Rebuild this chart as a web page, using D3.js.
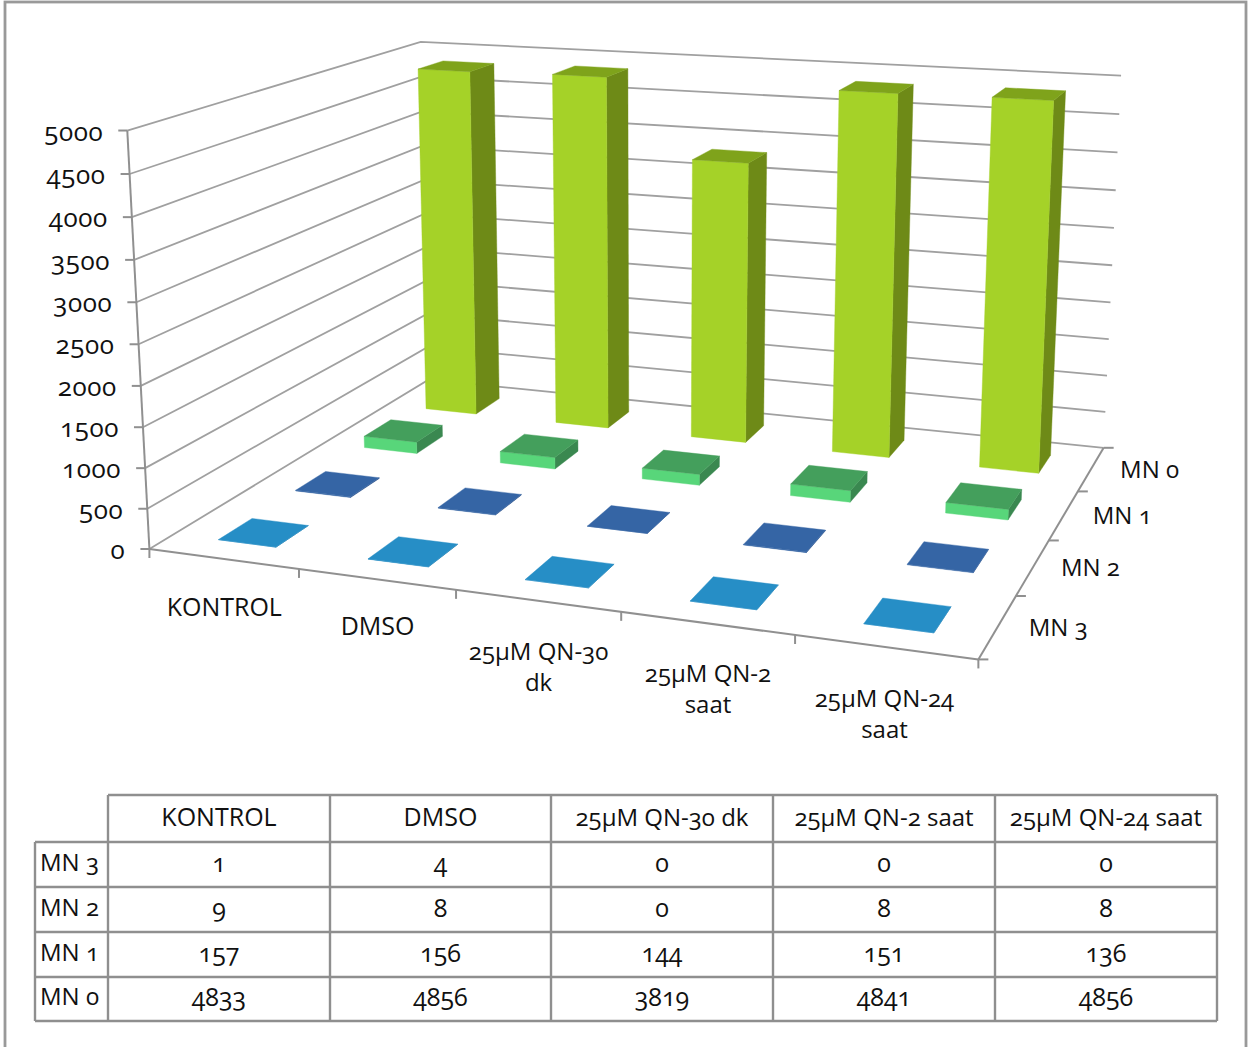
<!DOCTYPE html>
<html>
<head>
<meta charset="utf-8">
<script src="https://cdn.jsdelivr.net/npm/d3@7/dist/d3.min.js"></script>
<style>
html,body{margin:0;padding:0;background:#fff;}
svg{display:block;}
text{font-family:"Open Sans","Noto Sans",sans-serif;font-feature-settings:"onum" 1;fill:#111;}
</style>
</head>
<body>
<svg id="chart" width="1252" height="1047"></svg>
<script>
// Micronucleus counts per treatment
const categories = ["KONTROL", "DMSO", "25µM QN-30 dk", "25µM QN-2 saat", "25µM QN-24 saat"];
const axisLabelLines = [["KONTROL"], ["DMSO"], ["25µM QN-30", "dk"], ["25µM QN-2", "saat"], ["25µM QN-24", "saat"]];
const seriesNames = ["MN 3", "MN 2", "MN 1", "MN 0"];
const mn3 = [1, 4, 0, 0, 0];
const mn2 = [9, 8, 0, 8, 8];
const mn1 = [157, 156, 144, 151, 136];
const mn0 = [4833, 4856, 3819, 4841, 4856];
const seriesValues = [mn3, mn2, mn1, mn0];
const valueTicks = [0, 500, 1000, 1500, 2000, 2500, 3000, 3500, 4000, 4500, 5000];

// Face colours per series: front, side, top
const palette = [
  {front: "#268ec6", side: "#1f78a8", top: "#268ec6"},
  {front: "#3565a5", side: "#2b528a", top: "#3565a5"},
  {front: "#58d67a", side: "#3a8850", top: "#449f5c"},
  {front: "#a5d228", side: "#6e8a17", top: "#7fa31b"}
];

const gridColor = "#a0a0a0", axisColor = "#909090", tableColor = "#8f8f8f";
const wideSize = 25, mixedSize = 24;
// Labels containing the µ sign or the MN prefix run a little smaller
const sizeFor = t => /µ|MN|dk|saat/.test(t) ? mixedSize : wideSize;

// Scene corners used to calibrate the perspective camera: [x, y, z] in unit box -> screen
const calibration = [
  [[0,0,0],[150,549]], [[1,0,0],[978,660]], [[1,0,1],[1104,447]], [[0,0,1],[428,380]],
  [[0,1,0],[127,130]], [[0,1,1],[421,42]], [[1,1,1],[1121,76]]
];

// Direct linear transform with the last matrix term fixed at 1
function solveCamera(pairs) {
  const rows = [], rhs = [];
  pairs.forEach(([[x,y,z],[u,v]]) => {
    rows.push([x,y,z,1,0,0,0,0,-u*x,-u*y,-u*z]); rhs.push(u);
    rows.push([0,0,0,0,x,y,z,1,-v*x,-v*y,-v*z]); rhs.push(v);
  });
  const n = 11;
  const M = d3.range(n).map(i => d3.range(n + 1).map(j =>
    j < n ? d3.sum(rows, r => r[i] * r[j]) : d3.sum(rows, (r, k) => r[i] * rhs[k])));
  for (let c = 0; c < n; c++) {
    let p = c;
    for (let r = c + 1; r < n; r++) if (Math.abs(M[r][c]) > Math.abs(M[p][c])) p = r;
    [M[c], M[p]] = [M[p], M[c]];
    for (let r = 0; r < n; r++) {
      if (r === c) continue;
      const f = M[r][c] / M[c][c];
      for (let k = c; k <= n; k++) M[r][k] -= f * M[c][k];
    }
  }
  return d3.range(n).map(i => M[i][n] / M[i][i]);
}
const cam = solveCamera(calibration);
function project(x, y, z) {
  const w = cam[8]*x + cam[9]*y + cam[10]*z + 1;
  return [(cam[0]*x + cam[1]*y + cam[2]*z + cam[3]) / w,
          (cam[4]*x + cam[5]*y + cam[6]*z + cam[7]) / w];
}

// Data scales into the unit box
const xScale = d3.scaleBand().domain(categories).range([0, 1]).paddingInner(0.61).paddingOuter(0.305);
const zScale = d3.scaleBand().domain(seriesNames).range([0, 1]).paddingInner(0.58).paddingOuter(0.29);
const yScale = d3.scaleLinear().domain([0, 5000]).range([0, 1]);
const xStep = xScale.step(), zStep = zScale.step();

const svg = d3.select("#chart");
const poly = pts => pts.map(p => p.map(v => v.toFixed(2)).join(",")).join(" ");
const line = (g, a, b, color, w) => g.append("line")
  .attr("x1", a[0]).attr("y1", a[1]).attr("x2", b[0]).attr("y2", b[1])
  .attr("stroke", color).attr("stroke-width", w);

// Outer frame
svg.append("rect").attr("x", 5).attr("y", 2).attr("width", 1241).attr("height", 1060)
  .attr("fill", "#fff").attr("stroke", "#999").attr("stroke-width", 2.8);

// Wall gridlines
const grid = svg.append("g");
valueTicks.forEach(v => {
  const y = yScale(v);
  const pts = [project(0, y, 0), project(0, y, 1), project(1, y, 1)];
  grid.append("polyline").attr("points", poly(pts)).attr("fill", "none")
    .attr("stroke", gridColor).attr("stroke-width", 1.8);
});

// Axes and tick marks
const axes = svg.append("g");
line(axes, project(0,0,0), project(0,1,0), axisColor, 2);
line(axes, project(0,0,0), project(1,0,0), axisColor, 2);
line(axes, project(1,0,0), project(1,0,1), axisColor, 2);
valueTicks.forEach(v => {
  const p = project(0, yScale(v), 0);
  line(axes, [p[0] - 9, p[1]], p, axisColor, 2);
});
d3.range(categories.length + 1).forEach(i => {
  const p = project(i * xStep, 0, 0);
  line(axes, p, [p[0], p[1] + 9], axisColor, 2);
});
d3.range(seriesNames.length + 1).forEach(i => {
  const p = project(1, 0, i * zStep);
  line(axes, p, [p[0] + 10, p[1]], axisColor, 2);
});

// Bars, painted from the back row forward
const bars = svg.append("g");
d3.range(seriesNames.length - 1, -1, -1).forEach(s => {
  const name = seriesNames[s], z0 = zScale(name), z1 = z0 + zScale.bandwidth(), col = palette[s];
  categories.forEach((cat, i) => {
    const x0 = xScale(cat), x1 = x0 + xScale.bandwidth(), h = yScale(seriesValues[s][i]);
    const g = bars.append("g");
    const face = (pts, fill) => g.append("polygon").attr("points", poly(pts.map(p => project(...p))))
      .attr("fill", fill).attr("stroke", fill).attr("stroke-width", 0.4);
    face([[x1,0,z0],[x1,0,z1],[x1,h,z1],[x1,h,z0]], col.side);
    face([[x0,0,z0],[x1,0,z0],[x1,h,z0],[x0,h,z0]], col.front);
    face([[x0,h,z0],[x1,h,z0],[x1,h,z1],[x0,h,z1]], col.top);
  });
});

// Axis labels
const labels = svg.append("g");
valueTicks.forEach(v => {
  const p = project(0, yScale(v), 0);
  labels.append("text").attr("x", p[0] - 24).attr("y", p[1] + 10)
    .attr("text-anchor", "end").attr("font-size", 26).attr("letter-spacing", 0.6).text(v);
});
const catNudge = [[1, 49], [1, 48], [1, 51], [1, 51], [-1, 52]];
axisLabelLines.forEach((lines, i) => {
  const p = project((i + 0.5) * xStep, 0, 0);
  lines.forEach((t, k) => labels.append("text")
    .attr("x", p[0] + catNudge[i][0]).attr("y", p[1] + catNudge[i][1] + 8 + k * 31)
    .attr("text-anchor", "middle").attr("font-size", sizeFor(t)).text(t));
});
const serNudge = [31, 28, 29, 29];
seriesNames.forEach((name, s) => {
  const p = project(1, 0, (s + 0.5) * zStep);
  labels.append("text").attr("x", p[0] + serNudge[s]).attr("y", p[1] + 9)
    .attr("font-size", mixedSize).text(name);
});

// Data table under the plot
const colEdges = [108, 330, 551, 773, 995, 1217];
const rowEdges = [795, 842, 887, 932, 977, 1021];
const stubLeft = 35;
const table = svg.append("g");
rowEdges.forEach((y, r) => line(table, [r === 0 ? colEdges[0] : stubLeft, y], [colEdges[5], y], tableColor, 2.4));
colEdges.forEach(x => line(table, [x, rowEdges[0]], [x, rowEdges[5]], tableColor, 2.4));
line(table, [stubLeft, rowEdges[1]], [stubLeft, rowEdges[5]], tableColor, 2.4);
const tableText = svg.append("g");
categories.forEach((cat, c) => tableText.append("text")
  .attr("x", (colEdges[c] + colEdges[c + 1]) / 2).attr("y", (rowEdges[0] + rowEdges[1]) / 2 + 7)
  .attr("text-anchor", "middle").attr("font-size", sizeFor(cat)).text(cat));
seriesNames.forEach((name, s) => {
  const y = (rowEdges[s + 1] + rowEdges[s + 2]) / 2 + 7;
  tableText.append("text").attr("x", (stubLeft + colEdges[0]) / 2 - 2).attr("y", y - 1)
    .attr("text-anchor", "middle").attr("font-size", mixedSize).text(name);
  seriesValues[s].forEach((v, c) => tableText.append("text")
    .attr("x", (colEdges[c] + colEdges[c + 1]) / 2).attr("y", y)
    .attr("text-anchor", "middle").attr("font-size", wideSize).text(v));
});
</script>
</body>
</html>
